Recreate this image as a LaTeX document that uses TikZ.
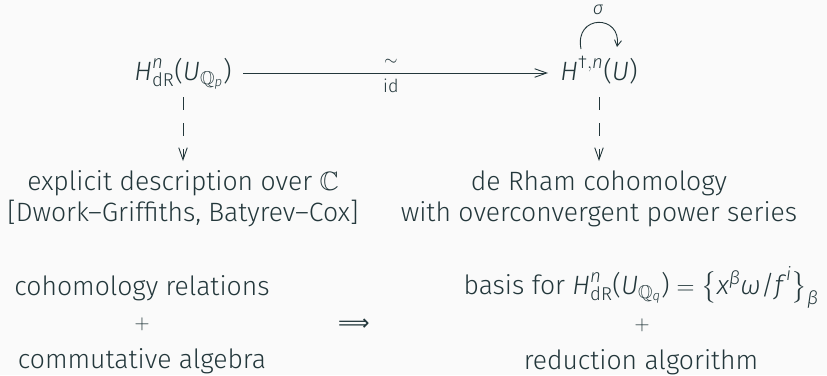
\documentclass[tikz,border=0pt]{standalone}
\usepackage{amsmath,amssymb}
\usepackage{fontspec}
\setmainfont{Fira Sans}[UprightFont={* Light}, ItalicFont={* Light Italic}, BoldFont={*}]
\newfontfamily\arrowfont{DejaVu Sans}
\usetikzlibrary{arrows.meta}
\definecolor{fg}{RGB}{35,55,59}
\definecolor{bg}{RGB}{250,250,250}
\newcommand{\mi}[1]{\text{\itshape #1}}
\newcommand{\HdR}[1]{\mi{H}^{\mi{n}}_{\text{dR}}\text{(}\mi{U}_{\mathbb{Q}_{\mi{#1}}}\text{)}}
\tikzset{
  txt/.style={text=fg, inner sep=0pt, font=\fontsize{26.5}{30}\selectfont},
  small/.style={text=fg, inner sep=0pt, font=\fontsize{18}{20}\selectfont},
  plus/.style={text=fg, inner sep=0pt, font=\fontsize{20}{22}\selectfont},
  tip/.style={-{Straight Barb[length=12pt,width=8.5pt]}},
  conn/.style={draw=fg, line width=0.9pt},
  dashconn/.style={conn, tip, dash pattern=on 13pt off 13pt},
}
\begin{document}
\begin{tikzpicture}[x=1pt,y=-1pt]
\fill[bg] (0,0) rectangle (827,375);
\useasboundingbox (0,0) rectangle (827,375);
% top row
\node[txt, anchor=base] (A) at (183,80) {$\HdR{p}$};
\node[txt, anchor=base] (B) at (599,80) {$\mi{H}^{\text{†},\mi{n}}\text{(}\mi{U}\text{)}$};
\coordinate (Ae) at (243,73);
\coordinate (Bw) at (548,73);
\draw[conn, tip] (Ae) -- node[small, above=7pt, pos=0.485] (iso) {$\sim$} node[small, below=5pt, pos=0.485] (idl) {id} (Bw);
% loop
\coordinate (L1) at (581,49);
\coordinate (L2) at (617,47);
\draw[conn, -{Straight Barb[length=6pt,width=7pt]}] (L1) .. controls (574,14) and (622,14) .. (L2);
\node[small] (sig) at (598,10) {\itshape σ};
% second row
\node[txt, anchor=base] (C1) at (183,190) {explicit description over $\mathbb{C}$};
\node[txt, anchor=base] (C2) at (183,221) {[Dwork–Griffiths, Batyrev–Cox]};
\node[txt, anchor=base] (D1) at (599,190) {de Rham cohomology};
\node[txt, anchor=base] (D2) at (599,221) {with overconvergent power series};
\coordinate (At) at (183,97);
\coordinate (Cn) at (183,161);
\coordinate (Bt) at (599,97);
\coordinate (Dn) at (599,161);
\draw[dashconn] (At) -- (Cn);
\draw[dashconn] (Bt) -- (Dn);
% bottom
\node[txt, anchor=base] (E1) at (142,295) {cohomology relations};
\node[plus] (Ep) at (142,324) {$+$};
\node[txt, anchor=base] (E2) at (142,368) {commutative algebra};
\node[txt, font=\fontsize{22}{24}\arrowfont] (imp) at (354,325) {⟹};
\node[txt, anchor=base] (F1) at (641,294) {basis for $\HdR{q} = \bigl\{\mi{x}^{\mi{β}}\mi{ω}\text{/}\mi{f}^{\,\mi{i}}\bigr\}_{\mi{β}}$};
\node[plus] (Fp) at (642,325) {$+$};
\node[txt, anchor=base] (F2) at (641,369) {reduction algorithm};
\end{tikzpicture}
\end{document}
